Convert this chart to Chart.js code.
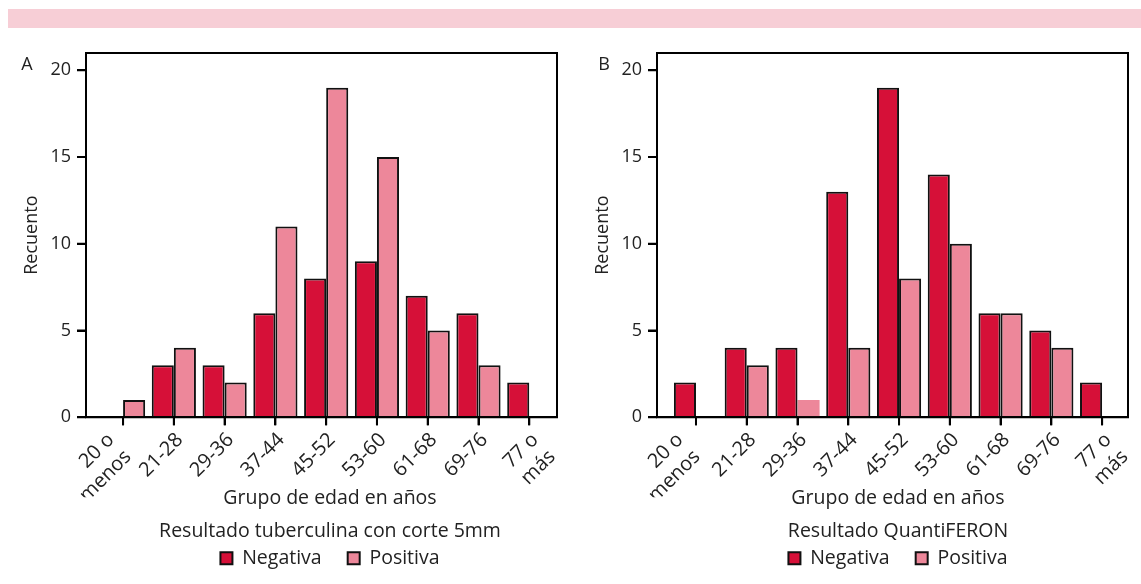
<!DOCTYPE html>
<html>
<head>
<meta charset="utf-8">
<script src="https://cdn.jsdelivr.net/npm/chart.js@4.4.1/dist/chart.umd.min.js"></script>
<style>
  html, body { margin: 0; padding: 0; background: #fff; overflow: hidden; width: 1141px; height: 584px; }
  .band { position: absolute; left: 8px; top: 9px; width: 1133px; height: 19px; background: #f7ced6; }
  .panel { position: absolute; top: 0; height: 584px; }
</style>
</head>
<body>
<div class="band"></div>
<div class="panel" style="left:0px;width:660px"><canvas id="chartA"></canvas></div>
<div class="panel" style="left:571px;width:654px"><canvas id="chartB"></canvas></div>
<script>
// age groups
const categories = [['20 o', 'menos'], '21-28', '29-36', '37-44', '45-52', '53-60', '61-68', '69-76', ['77 o', 'más']];
const yTicks = [0, 5, 10, 15, 20];

// A: tuberculina, corte 5mm
const negativaA = [0, 3, 3, 6, 8, 9, 7, 6, 2];
const positivaA = [1, 4, 2, 11, 19, 15, 5, 3, 0];

// B: QuantiFERON
const negativaB = [2, 4, 4, 13, 19, 14, 6, 5, 2];
const positivaB = [0, 3, 1, 4, 8, 10, 6, 4, 0];

const RED = 'rgb(214,16,56)';
const PINK = 'rgb(237,135,154)';
const TEXT = '#222';
const FAMILY = "'Open Sans', sans-serif";
const FONT = { family: FAMILY, size: 18 };
const BIG = { family: FAMILY, size: 19.5, weight: 'normal' };

// box around the plot, tick marks, panel letter
const framePlugin = {
  id: 'frame',
  beforeDraw(chart, args, o) {
    // nudge the first (two-line) category label to the left like the original
    const items = chart.scales.x.getLabelItems(chart.chartArea);
    if (items[0] && !items[0]._moved) {
      items[0].options.translation[0] += o.firstShift;
      items[0]._moved = true;
    }
  },
  afterDatasetsDraw(chart, args, o) {
    const { ctx, chartArea: a, scales } = chart;
    ctx.save();
    ctx.strokeStyle = '#000';
    ctx.lineWidth = 2;
    ctx.strokeRect(a.left, a.top, a.right - a.left, a.bottom - a.top);
    ctx.beginPath();
    scales.x.ticks.forEach(t => {
      const px = scales.x.getPixelForValue(t.value);
      ctx.moveTo(px, a.bottom);
      ctx.lineTo(px, a.bottom + 8);
    });
    scales.y.ticks.forEach(t => {
      const py = scales.y.getPixelForValue(t.value);
      ctx.moveTo(a.left - 9, py);
      ctx.lineTo(a.left, py);
    });
    ctx.stroke();
    ctx.fillStyle = TEXT;
    ctx.font = "18px 'Open Sans', sans-serif";
    ctx.textAlign = 'center';
    ctx.textBaseline = 'middle';
    ctx.fillText(o.letter, a.left + o.letterDx, a.top + 12);
    ctx.restore();
  }
};

function drawPanel(id, neg, pos, cfg) {
  const ctx = document.getElementById(id).getContext('2d');
  return new Chart(ctx, {
    type: 'bar',
    data: {
      datasets: [
        {
          label: 'Negativa',
          data: neg.map((v, i) => ({ x: i, y: v })),
          backgroundColor: RED,
          borderColor: '#111',
          borderWidth: 2
        },
        {
          label: 'Positiva',
          data: pos.map((v, i) => ({ x: i, y: v })),
          backgroundColor: PINK,
          borderColor: '#111',
          borderWidth: c => (c.dataIndex === cfg.borderless ? 0 : 2)
        }
      ]
    },
    options: {
      responsive: true,
      maintainAspectRatio: false,
      animation: false,
      categoryPercentage: 0.87,
      barPercentage: 1.0,
      layout: { padding: { top: 53, left: 0, right: 0, bottom: 6 } },
      scales: {
        x: {
          type: 'linear',
          min: cfg.xMin,
          max: cfg.xMax,
          offset: false,
          afterBuildTicks: s => { s.ticks = categories.map((c, i) => ({ value: i })); },
          afterFit: s => { s.height = 80; s.paddingLeft = 0; s.paddingRight = 0; },
          ticks: {
            autoSkip: false,
            minRotation: 45,
            maxRotation: 45,
            labelOffset: 6,
            padding: 3,
            color: TEXT,
            font: { family: FAMILY, size: 20 },
            callback: v => categories[v]
          },
          grid: { offset: false, drawOnChartArea: false, drawTicks: true, tickLength: 8, color: '#000', lineWidth: 2 },
          border: { display: true, color: '#000', width: 2 }
        },
        y: {
          min: 0,
          max: 21,
          afterBuildTicks: s => { s.ticks = yTicks.map(v => ({ value: v })); },
          afterFit: s => { s.width = 86; s.paddingTop = 0; s.paddingBottom = 0; },
          ticks: { padding: 6, color: TEXT, font: FONT },
          grid: { drawOnChartArea: false, drawTicks: true, tickLength: 9, color: '#000', lineWidth: 2 },
          border: { display: true, color: '#000', width: 2 },
          title: { display: true, text: 'Recuento', color: TEXT, font: FONT, padding: { top: 21, bottom: 0 } }
        },
        yR: {
          position: 'right',
          display: true,
          grid: { display: false },
          ticks: { display: false },
          border: { display: false },
          afterFit: s => { s.width = cfg.rightSpace; }
        }
      },
      plugins: {
        tooltip: { enabled: false },
        title: {
          display: true,
          text: 'Grupo de edad en años',
          position: 'bottom',
          weight: 500,
          color: TEXT,
          font: BIG,
          padding: { top: -10.7, bottom: 0 }
        },
        legend: {
          position: 'bottom',
          align: 'center',
          title: {
            display: true,
            text: cfg.legendTitle,
            color: TEXT,
            font: BIG,
            padding: { top: 11.6, bottom: -22.45 }
          },
          labels: { boxWidth: 12, boxHeight: 12, padding: 26, color: TEXT, font: BIG }
        },
        frame: { letter: cfg.letter, letterDx: cfg.letterDx, firstShift: cfg.firstShift }
      }
    },
    plugins: [framePlugin]
  });
}

drawPanel('chartA', negativaA, positivaA, {
  xMin: -0.73, xMax: 8.546, rightSpace: 103, borderless: -1, firstShift: -18,
  legendTitle: 'Resultado tuberculina con corte 5mm', letter: 'A', letterDx: -59
});
drawPanel('chartB', negativaB, positivaB, {
  xMin: -0.768, xMax: 8.51, rightSpace: 97, borderless: 2, firstShift: -22,
  legendTitle: 'Resultado QuantiFERON', letter: 'B', letterDx: -53
});
</script>
</body>
</html>
